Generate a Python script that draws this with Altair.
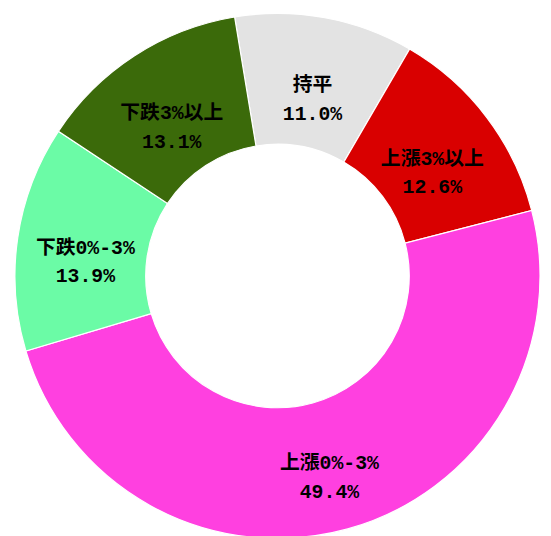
import math
import altair as alt
import pandas as pd

categories = ["持平", "上漲3%以上", "上漲0%-3%", "下跌0%-3%", "下跌3%以上"]
values = [11.0, 12.6, 49.4, 13.9, 13.1]
colors = ["#E3E3E3", "#D90000", "#FF40E0", "#6BFBA6", "#3B6A0A"]

df = pd.DataFrame({"cat": categories, "val": values, "order": list(range(len(values)))})
df["label"] = [f"{c}\n{v:.1f}%" for c, v in zip(categories, values)]

start = -9.4 * math.pi / 180
theta = alt.Theta("val:Q", stack=True, scale=alt.Scale(range=[start, start + 2 * math.pi]))
cx, cy = 272, 268

base = alt.Chart(df).encode(
    theta=theta,
    order=alt.Order("order:Q"),
    x=alt.value(cx),
    y=alt.value(cy),
)

arcs = base.mark_arc(outerRadius=265, innerRadius=133, stroke="#ffffff", strokeWidth=1.2).encode(
    color=alt.Color("cat:N", scale=alt.Scale(domain=categories, range=colors), legend=None)
)

labels = base.mark_text(
    radius=196,
    fontSize=20,
    fontWeight="bold",
    font="Liberation Mono, Noto Sans CJK TC",
    lineBreak="\n",
    lineHeight=29,
    color="#000000",
    baseline="middle",
    align="center",
).encode(text="label:N")

chart = (arcs + labels).properties(width=535, height=520, padding=0).configure_view(stroke=None)
chart.save("out.html", embed_options={"renderer": "svg", "actions": False})
